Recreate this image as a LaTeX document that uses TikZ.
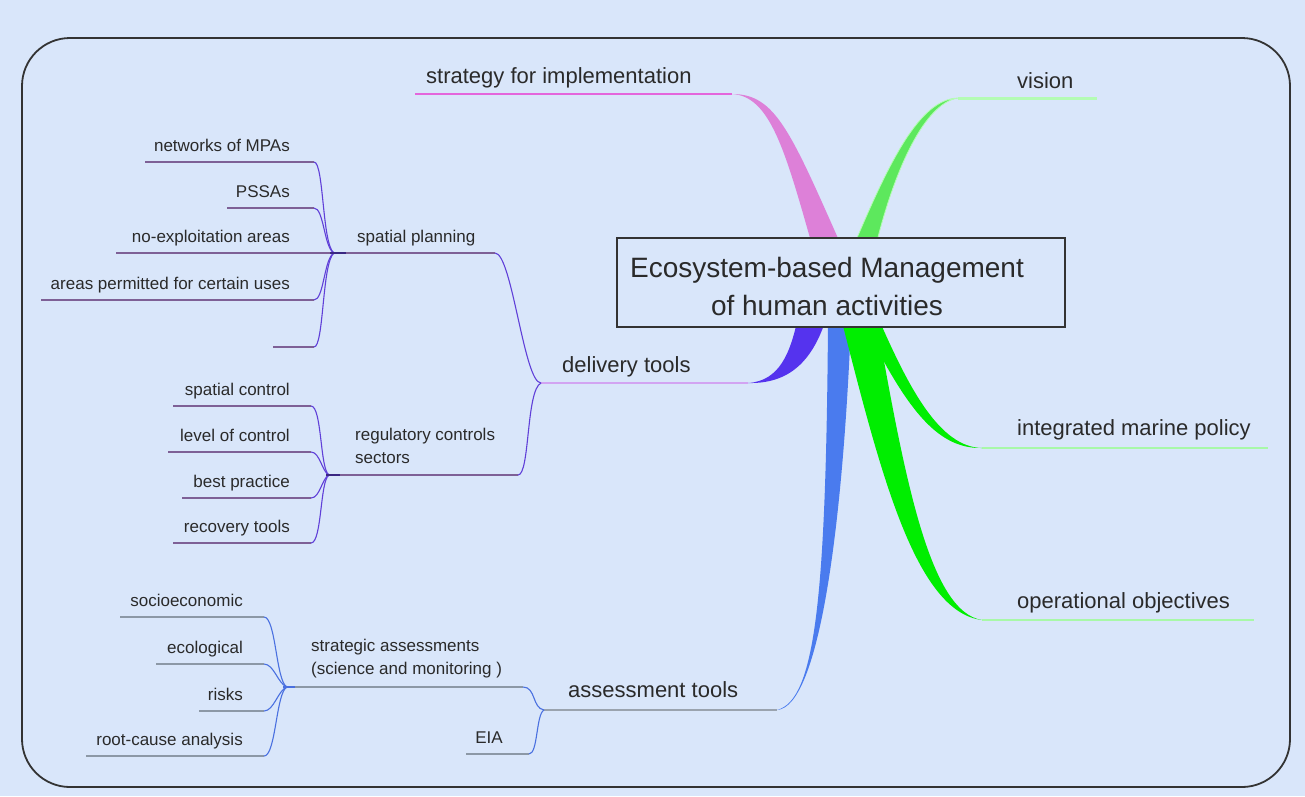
\documentclass[tikz,border=0pt]{standalone}
\usepackage{fontspec}
\setmainfont{Liberation Sans}
\definecolor{bgblue}{HTML}{D9E6FA}
\definecolor{frame}{HTML}{333333}
\definecolor{pinkrib}{HTML}{DD80D8}
\definecolor{pinkline}{HTML}{E466DC}
\definecolor{visionrib}{HTML}{5DE85D}
\definecolor{visionline}{HTML}{B4FCB4}
\definecolor{purplerib}{HTML}{5533EE}
\definecolor{lavline}{HTML}{D2A4F2}
\definecolor{bluerib}{HTML}{4A7BEE}
\definecolor{grayline}{HTML}{9AA3AE}
\definecolor{greenrib}{HTML}{00EE00}
\definecolor{greenline}{HTML}{A8F8A8}
\definecolor{twig}{HTML}{7E6096}
\definecolor{twigcurve}{HTML}{6040D8}
\definecolor{atwig}{HTML}{8C98A6}
\definecolor{atwigcurve}{HTML}{4A70E0}
\definecolor{ink}{HTML}{2A2A2A}
\begin{document}
\begin{tikzpicture}[x=1pt,y=-1pt,
  small/.style={font=\fontsize{17}{23}\selectfont, inner sep=0pt, text=ink},
  big/.style={font=\fontsize{22}{26}\selectfont, inner sep=0pt, text=ink},
  twigline/.style={draw=twig, line width=1.3pt},
  twigbend/.style={draw=twigcurve, line width=1.1pt},
  atwigline/.style={draw=atwig, line width=1.6pt},
  atwigbend/.style={draw=atwigcurve, line width=1.1pt},
]
\fill[bgblue] (0,0) rectangle (1305,796);
\useasboundingbox (0,0) rectangle (1305,796);
\draw[frame, line width=1.8pt, rounded corners=48pt] (22,38) rectangle (1290,787);

% ---------- main branches ----------
% strategy
\coordinate (stratS) at (415,94);
\coordinate (stratE) at (732,94);
\draw[pinkline, line width=1.8pt] (stratS) -- (stratE);
\fill[pinkrib] (stratE) .. controls (775,94) and (790,130) .. (841,245) -- (812,245) .. controls (785,150) and (770,96) .. (stratE) -- cycle;
\node[big, anchor=base west] (strat) at (426,83) {strategy for implementation};

% vision
\coordinate (visS) at (958,98);
\coordinate (visE) at (1097,98);
\draw[visionline, line width=3pt] (visS) -- (visE);
\fill[visionrib, draw=visionline, line width=0.8pt] (854,245) .. controls (890,160) and (920,99) .. (visS) .. controls (925,103) and (895,168) .. (876,245) -- cycle;
\node[big, anchor=base west] (vis) at (1017,88) {vision};

% delivery tools
\coordinate (delJ) at (541,383);
\coordinate (delE) at (748,383);
\draw[lavline, line width=2pt] (delJ) -- (delE);
\fill[purplerib] (delE) .. controls (790,384) and (812,360) .. (825,322) -- (797,322) .. controls (790,352) and (780,381) .. (delE) -- cycle;
\node[big, anchor=base west] (del) at (562,372) {delivery tools};

% assessment tools
\coordinate (assJ) at (544,710);
\coordinate (assE) at (777,710);
\draw[grayline, line width=2pt] (assJ) -- (assE);
\fill[bluerib] (828,322) .. controls (826,600) and (815,700) .. (assE) .. controls (820,707) and (843,520) .. (851,322) -- cycle;
\node[big, anchor=base west] (ass) at (568,697) {assessment tools};

% integrated marine policy
\coordinate (impS) at (982,448);
\coordinate (impE) at (1268,448);
\draw[greenline, line width=2.5pt] (impS) -- (impE);
\fill[greenrib] (880,322) .. controls (910,390) and (940,447) .. (impS) .. controls (935,449) and (905,405) .. (863,322) -- cycle;
\node[big, anchor=base west] (imp) at (1017,435) {integrated marine policy};

% operational objectives
\coordinate (opS) at (982,620);
\coordinate (opE) at (1254,620);
\draw[greenline, line width=2.5pt] (opS) -- (opE);
\fill[greenrib] (842,322) .. controls (880,470) and (915,612) .. (opS) .. controls (930,612) and (905,480) .. (877,322) -- cycle;
\node[big, anchor=base west] (op) at (1017,608) {operational objectives};

% central box
\node[draw=frame, line width=1.4pt, fill=bgblue, minimum width=448pt, minimum height=89pt, inner sep=0pt] (root) at (841,282.5) {};
\node[font=\fontsize{28}{38}\selectfont, align=center, inner sep=0pt, text=ink] (roottext) at (827,286) {Ecosystem-based Management\\of human activities};

% ---------- spatial planning ----------
\coordinate (spJ) at (334,253);
\coordinate (spE) at (495,253);
\draw[twigline] (spJ) -- (spE);
\draw[twigbend] (spE) .. controls (512,253) and (524,383) .. (delJ);
\node[small, anchor=base west] (sp) at (357,242.5) {spatial planning};

\coordinate (mpaS) at (145,162); \coordinate (mpaE) at (314,162);
\draw[twigline] (mpaS) -- (mpaE);
\draw[twigbend] (mpaE) .. controls (324,162) and (322,245) .. (spJ);
\node[small, anchor=base east] (mpa) at (290,151.5) {networks of MPAs};

\coordinate (psS) at (227,208); \coordinate (psE) at (314,208);
\draw[twigline] (psS) -- (psE);
\draw[twigbend] (psE) .. controls (324,208) and (324,248) .. (spJ);
\node[small, anchor=base east] (pssa) at (290,197.5) {PSSAs};

\coordinate (noS) at (116,253);
\draw[twigline] (noS) -- (spJ);
\node[small, anchor=base east] (noex) at (290,242.5) {no-exploitation areas};

\coordinate (arS) at (41,300); \coordinate (arE) at (314,300);
\draw[twigline] (arS) -- (arE);
\draw[twigbend] (arE) .. controls (324,300) and (324,258) .. (spJ);
\node[small, anchor=base east] (area) at (290,289.5) {areas permitted for certain uses};

\coordinate (emS) at (273,347); \coordinate (emE) at (314,347);
\draw[twigline] (emS) -- (emE);
\draw[twigbend] (emE) .. controls (324,347) and (322,262) .. (spJ);

\draw[line width=2.4pt, twigcurve!60!black] (330,253) -- (346,253);

% ---------- regulatory controls ----------
\coordinate (rgJ) at (329,475);
\coordinate (rgE) at (518,475);
\draw[twigline] (rgJ) -- (rgE);
\draw[twigbend] (rgE) .. controls (530,475) and (526,390) .. (delJ);
\node[small, anchor=north west, align=left] (rg) at (355,427.6) {regulatory controls\\sectors};

\coordinate (scS) at (173,406); \coordinate (scE) at (311,406);
\draw[twigline] (scS) -- (scE);
\draw[twigbend] (scE) .. controls (322,406) and (320,470) .. (rgJ);
\node[small, anchor=base east] (sc) at (290,395.5) {spatial control};

\coordinate (lcS) at (168,452); \coordinate (lcE) at (311,452);
\draw[twigline] (lcS) -- (lcE);
\draw[twigbend] (lcE) .. controls (320,452) and (322,472) .. (rgJ);
\node[small, anchor=base east] (lc) at (290,441.5) {level of control};

\coordinate (bpS) at (182,498); \coordinate (bpE) at (311,498);
\draw[twigline] (bpS) -- (bpE);
\draw[twigbend] (bpE) .. controls (320,498) and (322,478) .. (rgJ);
\node[small, anchor=base east] (bp) at (290,487.5) {best practice};

\coordinate (rtS) at (173,543); \coordinate (rtE) at (311,543);
\draw[twigline] (rtS) -- (rtE);
\draw[twigbend] (rtE) .. controls (322,543) and (320,480) .. (rgJ);
\node[small, anchor=base east] (rt) at (290,532.5) {recovery tools};

\draw[line width=2.4pt, twigcurve!60!black] (326,475) -- (340,475);

% ---------- assessment sub-branches ----------
\coordinate (saJ) at (287,687);
\coordinate (saE) at (523,687);
\draw[atwigline] (saJ) -- (saE);
\draw[atwigbend] (saE) .. controls (536,687) and (532,708) .. (assJ);
\node[small, anchor=north west, align=left] (sa) at (311,638.8) {strategic assessments\\(science and monitoring )};

\coordinate (eiaS) at (466,754); \coordinate (eiaE) at (529,754);
\draw[atwigline] (eiaS) -- (eiaE);
\draw[atwigbend] (eiaE) .. controls (538,754) and (536,714) .. (assJ);
\node[small, anchor=base east] (eia) at (503,743.5) {EIA};

\coordinate (soS) at (120,617); \coordinate (soE) at (264,617);
\draw[atwigline] (soS) -- (soE);
\draw[atwigbend] (soE) .. controls (276,617) and (276,682) .. (saJ);
\node[small, anchor=base east] (so) at (243,606.5) {socioeconomic};

\coordinate (ecS) at (156,664); \coordinate (ecE) at (264,664);
\draw[atwigline] (ecS) -- (ecE);
\draw[atwigbend] (ecE) .. controls (274,664) and (278,684) .. (saJ);
\node[small, anchor=base east] (ec) at (243,653.5) {ecological};

\coordinate (riS) at (199,711); \coordinate (riE) at (264,711);
\draw[atwigline] (riS) -- (riE);
\draw[atwigbend] (riE) .. controls (274,711) and (278,690) .. (saJ);
\node[small, anchor=base east] (ri) at (243,700.5) {risks};

\coordinate (rcS) at (86,756); \coordinate (rcE) at (264,756);
\draw[atwigline] (rcS) -- (rcE);
\draw[atwigbend] (rcE) .. controls (276,756) and (276,692) .. (saJ);
\node[small, anchor=base east] (rc) at (243,745.5) {root-cause analysis};

\draw[line width=2.2pt, atwigcurve] (283,687) -- (295,687);
\end{tikzpicture}
\end{document}
